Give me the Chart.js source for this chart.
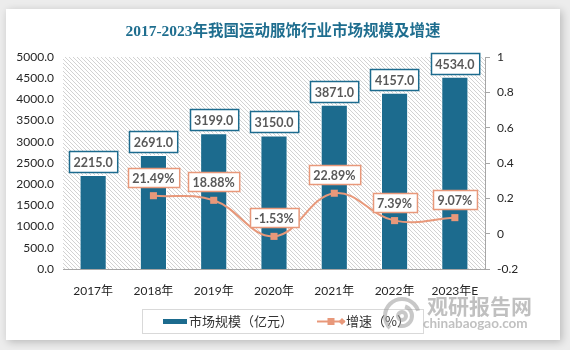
<!DOCTYPE html>
<html>
<head>
<meta charset="utf-8">
<script src="https://cdn.jsdelivr.net/npm/chart.js@4/dist/chart.umd.min.js"></script>
<style>
  html, body { margin: 0; padding: 0; background: #ececec; }
  #wrap { width: 570px; height: 350px; position: relative; }
</style>
</head>
<body>
<div id="wrap"><canvas id="c" width="570" height="350"></canvas></div>
<script>
// ---- data ----
const chartTitle = '2017-2023年我国运动服饰行业市场规模及增速';
const years = ['2017年', '2018年', '2019年', '2020年', '2021年', '2022年', '2023年E'];
const marketSize = [2215.0, 2691.0, 3199.0, 3150.0, 3871.0, 4157.0, 4534.0];
const growthRate = [null, 0.2149, 0.1888, -0.0153, 0.2289, 0.0739, 0.0907];
const sizeLabel = '市场规模（亿元）';
const rateLabel = '增速（%）';
const sizeAxisRange = [0, 5000, 500];
const rateAxisRange = [-0.2, 1, 0.2];

// ---- styles ----
const BAR_COLOR = '#1c6b8e';
const LINE_COLOR = '#e8987a';
const LABEL_TEXT = '#595959';
const LATIN = 'Lato, "Noto Sans CJK SC", sans-serif';
const CJK = '"Noto Sans CJK SC", Lato, sans-serif';

const cardPlugin = {
  id: 'card',
  beforeDraw(chart) {
    const ctx = chart.ctx;
    ctx.save();
    ctx.fillStyle = '#ececec';
    ctx.fillRect(0, 0, chart.width, chart.height);
    ctx.shadowColor = 'rgba(0,0,0,0.22)';
    ctx.shadowBlur = 8;
    ctx.shadowOffsetX = 2;
    ctx.shadowOffsetY = 2;
    ctx.fillStyle = '#ffffff';
    ctx.fillRect(6, 9, 554, 331);
    ctx.restore();
    // title
    ctx.save();
    ctx.font = 'bold 15.5px "Liberation Serif", "Noto Sans CJK SC", serif';
    ctx.fillStyle = '#1f6e8f';
    ctx.textAlign = 'center';
    ctx.textBaseline = 'middle';
    ctx.fillText(chartTitle, 283, 32);
    ctx.restore();
  },
  beforeDatasetsDraw(chart) {
    const {ctx, chartArea: a} = chart;
    const pc = document.createElement('canvas');
    pc.width = 4; pc.height = 4;
    const p = pc.getContext('2d');
    p.fillStyle = '#ffffff';
    p.fillRect(0, 0, 4, 4);
    p.fillStyle = '#d2d2d2';
    for (let i = 0; i < 4; i++) p.fillRect(i, i, 1, 1);
    ctx.save();
    ctx.fillStyle = ctx.createPattern(pc, 'repeat');
    ctx.fillRect(a.left, a.top, a.right - a.left, a.bottom - a.top);
    ctx.restore();
  }
};

function boxLabel(ctx, text, cx, bottom, border, h) {
  ctx.font = 'bold 12.5px ' + LATIN;
  const w = ctx.measureText(text).width + 9;
  const x = Math.round(cx - w / 2) + 0.5;
  const y = Math.round(bottom - h) + 0.5;
  ctx.fillStyle = '#ffffff';
  ctx.fillRect(x, y, w, h);
  ctx.strokeStyle = border;
  ctx.lineWidth = 1.5;
  ctx.strokeRect(x, y, w, h);
  ctx.fillStyle = LABEL_TEXT;
  ctx.textAlign = 'center';
  ctx.textBaseline = 'middle';
  ctx.fillText(text, cx, y + h / 2 + 0.5);
}

const labelPlugin = {
  id: 'labels',
  afterDatasetsDraw(chart) {
    const ctx = chart.ctx;
    ctx.save();
    const barMeta = chart.getDatasetMeta(0);
    barMeta.data.forEach((el, i) => {
      boxLabel(ctx, marketSize[i].toFixed(1), el.x, el.y - 3, BAR_COLOR, 21);
    });
    const lineMeta = chart.getDatasetMeta(1);
    lineMeta.data.forEach((el, i) => {
      const v = growthRate[i];
      if (v === null || v === undefined) return;
      boxLabel(ctx, (v * 100).toFixed(2) + '%', el.x, el.y - 9, LINE_COLOR, 19);
    });
    ctx.restore();
  },
  afterDraw(chart) {
    const ctx = chart.ctx;
    ctx.save();
    // legend
    ctx.strokeStyle = '#d9d9d9';
    ctx.lineWidth = 1;
    ctx.strokeRect(142.5, 309.5, 281, 24);
    ctx.font = '13px ' + CJK;
    ctx.textBaseline = 'middle';
    ctx.textAlign = 'left';
    const ly = 321.5;
    ctx.fillStyle = BAR_COLOR;
    ctx.fillRect(163, 319, 24, 5);
    ctx.fillStyle = '#333333';
    ctx.fillText(chart.data.datasets[0].label, 189, ly);
    ctx.strokeStyle = LINE_COLOR;
    ctx.lineWidth = 2;
    ctx.beginPath(); ctx.moveTo(317, ly); ctx.lineTo(345, ly); ctx.stroke();
    ctx.fillStyle = LINE_COLOR;
    ctx.fillRect(327.5, ly - 3.5, 7, 7);
    ctx.beginPath();
    ctx.moveTo(342, ly - 3.5); ctx.lineTo(345.5, ly); ctx.lineTo(342, ly + 3.5); ctx.lineTo(338.5, ly);
    ctx.closePath(); ctx.fill();
    ctx.fillStyle = '#333333';
    ctx.fillText(chart.data.datasets[1].label, 346, ly);
    // watermark
    ctx.globalAlpha = 0.55;
    ctx.strokeStyle = '#9a9a9a';
    ctx.lineWidth = 4;
    ctx.beginPath(); ctx.arc(402, 316, 17, Math.PI * 0.75, Math.PI * 1.9); ctx.stroke();
    ctx.beginPath(); ctx.arc(402, 316, 10, Math.PI * 1.6, Math.PI * 0.6); ctx.stroke();
    ctx.beginPath(); ctx.arc(402, 316, 4, 0, Math.PI * 2); ctx.stroke();
    ctx.fillStyle = '#8c8c8c';
    ctx.font = 'bold 21px ' + CJK;
    ctx.textBaseline = 'alphabetic';
    ctx.fillText('观研报告网', 427, 314);
    ctx.font = 'bold 13.5px ' + LATIN;
    ctx.fillText('chinabaogao.com', 423, 328);
    ctx.restore();
  }
};

new Chart(document.getElementById('c'), {
  data: {
    labels: years,
    datasets: [
      {
        type: 'bar',
        label: sizeLabel,
        data: marketSize,
        yAxisID: 'y',
        backgroundColor: BAR_COLOR,
        borderColor: '#ffffff',
        borderWidth: 1,
        borderSkipped: 'bottom',
        categoryPercentage: 1,
        barPercentage: 0.45,
        order: 1
      },
      {
        type: 'line',
        label: rateLabel,
        data: growthRate,
        yAxisID: 'y1',
        borderColor: LINE_COLOR,
        backgroundColor: LINE_COLOR,
        borderWidth: 2,
        tension: 0.4,
        pointStyle: 'rect',
        pointRadius: 5,
        pointBorderWidth: 0,
        order: 0
      }
    ]
  },
  options: {
    responsive: false,
    animation: false,
    events: [],
    layout: { padding: { left: 0, right: 40, top: 57, bottom: 41 } },
    plugins: { legend: { display: false }, tooltip: { enabled: false }, title: { display: false } },
    scales: {
      x: {
        grid: { display: false, drawTicks: false },
        border: { display: true, color: '#a6a6a6', width: 1 },
        ticks: { color: '#262626', font: { family: LATIN, size: 12 }, padding: 15 },
        afterFit(s) { s.height = 40; }
      },
      y: {
        position: 'left',
        min: sizeAxisRange[0], max: sizeAxisRange[1],
        grid: { display: false, drawTicks: false },
        border: { display: false },
        ticks: {
          stepSize: sizeAxisRange[2], padding: 9, color: '#262626',
          font: { family: LATIN, size: 12 },
          callback: v => Number(v).toFixed(1)
        },
        afterFit(s) { s.width = 63; }
      },
      y1: {
        position: 'right',
        min: rateAxisRange[0], max: rateAxisRange[1],
        grid: { display: true, drawOnChartArea: false, drawTicks: true, tickLength: 5, color: '#a6a6a6' },
        border: { display: true, color: '#a6a6a6', width: 1 },
        ticks: {
          stepSize: rateAxisRange[2], padding: 7, color: '#262626',
          font: { family: LATIN, size: 12 },
          callback: v => String(Math.round(v * 10) / 10)
        },
        afterFit(s) { s.width = 45; }
      }
    }
  },
  plugins: [cardPlugin, labelPlugin]
});
</script>
</body>
</html>
